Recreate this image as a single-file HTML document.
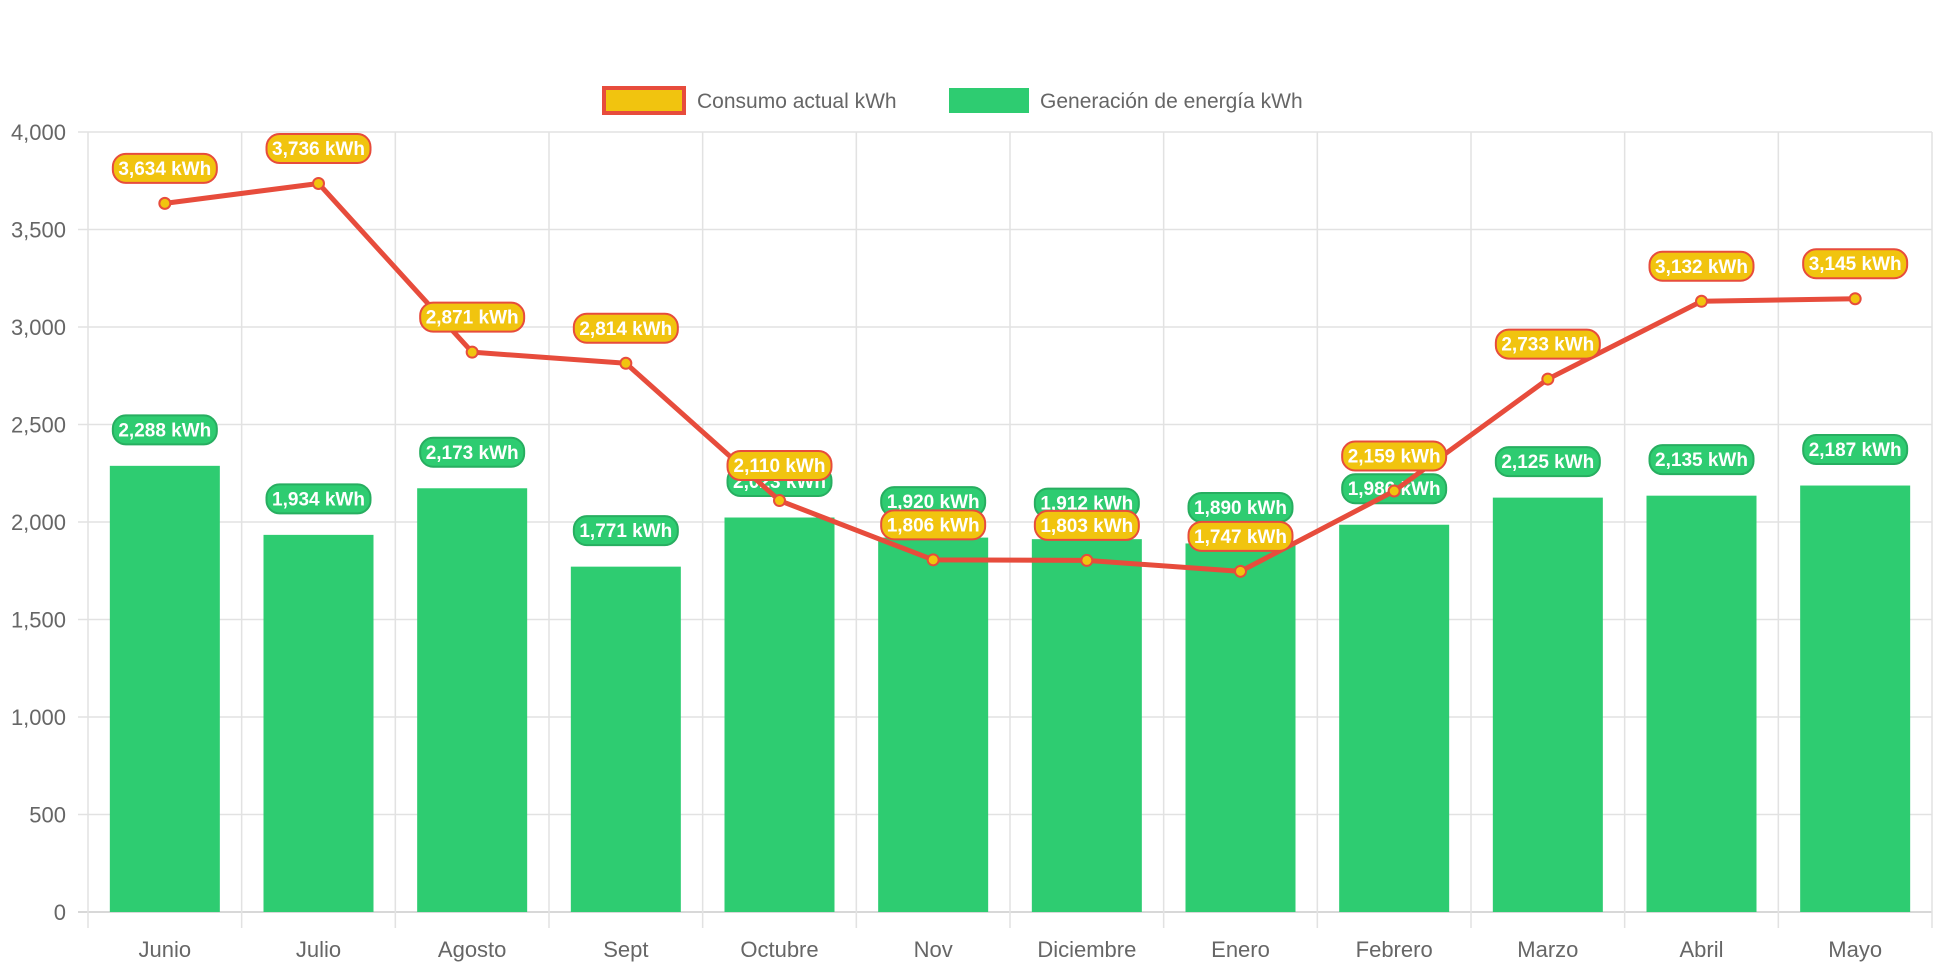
<!DOCTYPE html>
<html><head><meta charset="utf-8"><style>
html,body{margin:0;padding:0;background:#fff;}
svg{display:block;font-family:"Liberation Sans",sans-serif;}
</style></head><body>
<svg id="chart" width="1942" height="970">
<g id="grid"></g>
<g id="bars"></g>
<g id="glabels"></g>
<g id="line"></g>
<g id="clabels"></g>
<g>
 <g>
  <rect x="604" y="88" width="80" height="25" fill="#f1c40f" stroke="#e74c3c" stroke-width="4"/>
  <text x="697" y="108" font-size="21" fill="#666">Consumo actual kWh</text>
 </g>
 <g>
  <rect x="949" y="88" width="80" height="25" fill="#2ecc71"/>
  <text x="1040" y="108" font-size="21" fill="#666">Generación de energía kWh</text>
 </g>
</g>
</svg>
<script>
const categories=["Junio","Julio","Agosto","Sept","Octubre","Nov","Diciembre","Enero","Febrero","Marzo","Abril","Mayo"];
const consumo=[3634,3736,2871,2814,2110,1806,1803,1747,2159,2733,3132,3145];
const generacion=[2288,1934,2173,1771,2023,1920,1912,1890,1986,2125,2135,2187];
const yTicks=[0,500,1000,1500,2000,2500,3000,3500,4000];
const L=88,R=1932,T=132,B=912,YMAX=4000;
const bw=(R-L)/categories.length;
const xc=i=>L+(i+0.5)*bw;
const y=v=>B-(v/YMAX)*(B-T);
const NS="http://www.w3.org/2000/svg";
function mk(tag,attrs,parent){const e=document.createElementNS(NS,tag);for(const k in attrs)e.setAttribute(k,attrs[k]);parent.appendChild(e);return e;}
const grid=document.getElementById('grid');
yTicks.forEach(t=>{
 const ln=mk('line',{x1:L-10,x2:R,y1:y(t),y2:y(t),stroke:t===0?'#ccc':'#e2e2e2','stroke-width':1.5},grid);
 
 
 const tx=mk('text',{x:L-22,y:y(t)+8,'text-anchor':'end','font-size':22,fill:'#666'},grid);
 tx.textContent=t.toLocaleString('en-US');
 
 
});
for(let i=0;i<=categories.length;i++){
 const ln=mk('line',{x1:L+i*bw,x2:L+i*bw,y1:T,y2:B+16,stroke:'#e2e2e2','stroke-width':1.5},grid);
 
 
}
categories.forEach((c,i)=>{
 const tx=mk('text',{x:xc(i),y:957,'text-anchor':'middle','font-size':22,fill:'#666'},grid);
 tx.textContent=c;
 
 
});
function pill(parent,cx,cy,txt,fill,stroke){
 const g=mk('g',{},parent);
 const w=txt.length*10+14;
 mk('rect',{x:cx-w/2,y:cy-14.5,width:w,height:29,rx:13,fill:fill,stroke:stroke,'stroke-width':2},g);
 const t=mk('text',{x:cx,y:cy+6.5,'text-anchor':'middle','font-size':19,'font-weight':'bold',fill:'#fff'},g);
 t.textContent=txt;
 return g;
}
const bars=document.getElementById('bars'),gl=document.getElementById('glabels');
generacion.forEach((v,i)=>{
 const r=mk('rect',{x:xc(i)-55,y:y(v),width:110,height:B-y(v),fill:'#2ecc71'},bars);
 
 
 const p=pill(gl,xc(i),y(v)-36,v.toLocaleString('en-US')+' kWh','#2ecc71','#27ae60');
 
 
});
const lg=document.getElementById('line'),cl=document.getElementById('clabels');
const pl=mk('polyline',{points:consumo.map((v,i)=>xc(i)+','+y(v)).join(' '),fill:'none',stroke:'#e74c3c','stroke-width':5,'stroke-linejoin':'round'},lg);


consumo.forEach((v,i)=>{
 const c=mk('circle',{cx:xc(i),cy:y(v),r:5.5,fill:'#f1c40f',stroke:'#e74c3c','stroke-width':2},lg);
 
 
 const p=pill(cl,xc(i),y(v)-35,v.toLocaleString('en-US')+' kWh','#f1c40f','#e74c3c');
 
 
});
</script>
</body></html>
